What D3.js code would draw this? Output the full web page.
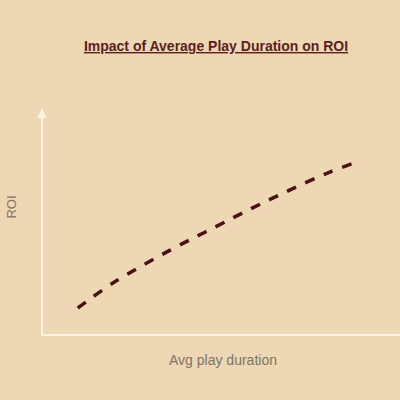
<!DOCTYPE html>
<html>
<head>
<meta charset="utf-8">
<script src="https://cdn.jsdelivr.net/npm/d3@7"></script>
<style>
  html, body { margin: 0; padding: 0; background: #eed8b4; }
  svg { display: block; }
</style>
</head>
<body>
<svg id="chart" width="400" height="400"></svg>
<script>
// Data (arbitrary units)
const playDuration = [1.0, 1.98, 3.58, 4.78, 5.87, 6.93, 8.04, 8.8];
const roiValues    = [1.19, 2.29, 3.74, 4.71, 5.59, 6.39, 7.18, 7.62];
const titleText = "Impact of Average Play Duration on ROI";
const xLabel = "Avg play duration";
const yLabel = "ROI";

const svg = d3.select("#chart");
const W = 400, H = 400;
svg.append("rect").attr("width", W).attr("height", H).attr("fill", "#eed8b4");

const x = d3.scaleLinear().domain([0, 10]).range([42, 400]);
const y = d3.scaleLinear().domain([0, 10]).range([335, 108]);

const axisColor = "#fdf4e4";

// x axis (no ticks)
svg.append("line")
  .attr("x1", x(0)).attr("x2", x(10)).attr("y1", y(0)).attr("y2", y(0))
  .attr("stroke", axisColor).attr("stroke-width", 2.2);
// y axis
svg.append("line")
  .attr("x1", x(0)).attr("x2", x(0)).attr("y1", y(0) + 1).attr("y2", y(10) + 8)
  .attr("stroke", axisColor).attr("stroke-width", 2.2);
// arrow head
svg.append("path")
  .attr("d", `M${x(0)},${y(10)} L${x(0) - 4.5},${y(10) + 10} L${x(0) + 4.5},${y(10) + 10} Z`)
  .attr("fill", axisColor);

// curve
const data = playDuration.map((d, i) => ({ x: d, y: roiValues[i] }));
const line = d3.line()
  .x(d => x(d.x))
  .y(d => y(d.y))
  .curve(d3.curveCatmullRom.alpha(0.5));
svg.append("path")
  .datum(data)
  .attr("d", line)
  .attr("fill", "none")
  .attr("stroke", "#4a1212")
  .attr("stroke-width", 3.5)
  .attr("stroke-dasharray", "10,10");

// title
svg.append("text")
  .attr("x", 216).attr("y", 51)
  .attr("text-anchor", "middle")
  .attr("font-family", "Liberation Sans, Arial, sans-serif")
  .attr("font-weight", "bold")
  .attr("font-size", 14)
  .attr("fill", "#5c1e1e")
  .attr("text-decoration", "underline")
  .text(titleText);

// axis labels
svg.append("text")
  .attr("x", 223).attr("y", 365)
  .attr("text-anchor", "middle")
  .attr("font-family", "Liberation Sans, Arial, sans-serif")
  .attr("font-size", 14)
  .attr("fill", "#7f7264")
  .text(xLabel);

svg.append("text")
  .attr("transform", "translate(16,207) rotate(-90)")
  .attr("text-anchor", "middle")
  .attr("font-family", "Liberation Sans, Arial, sans-serif")
  .attr("font-size", 13)
  .attr("fill", "#7f7264")
  .text(yLabel);
</script>
</body>
</html>
